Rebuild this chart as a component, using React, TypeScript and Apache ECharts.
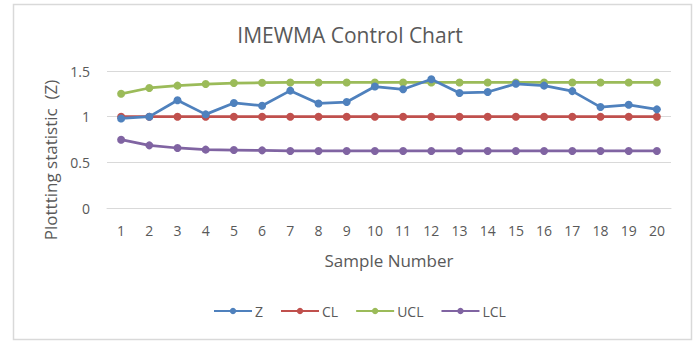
import React, { useEffect, useRef } from "react";
import * as echarts from "echarts";

const categories = ["1","2","3","4","5","6","7","8","9","10","11","12","13","14","15","16","17","18","19","20"];
const zValues = [0.98, 1.0, 1.18, 1.025, 1.15, 1.12, 1.285, 1.145, 1.16, 1.33, 1.30, 1.41, 1.26, 1.27, 1.36, 1.34, 1.28, 1.105, 1.13, 1.08];
const clValues = [1, 1, 1, 1, 1, 1, 1, 1, 1, 1, 1, 1, 1, 1, 1, 1, 1, 1, 1, 1];
const uclValues = [1.25, 1.314, 1.34, 1.357, 1.368, 1.372, 1.375, 1.375, 1.375, 1.375, 1.375, 1.375, 1.375, 1.375, 1.375, 1.375, 1.375, 1.375, 1.375, 1.375];
const lclValues = [0.748, 0.686, 0.657, 0.639, 0.635, 0.631, 0.625, 0.625, 0.625, 0.625, 0.625, 0.625, 0.625, 0.625, 0.625, 0.625, 0.625, 0.625, 0.625, 0.625];

const FONT = "'Open Sans', 'Liberation Sans', sans-serif";
const TXT = "#595959";

export default function App() {
  const ref = useRef<HTMLDivElement>(null);
  useEffect(() => {
    if (!ref.current) return;
    const chart = echarts.init(ref.current, null, { renderer: "svg" });
    const mk = (name: string, data: number[], color: string) => ({
      name,
      type: "line",
      data,
      symbol: "circle",
      symbolSize: 8,
      lineStyle: { color, width: 2.75 },
      itemStyle: { color },
      z: name === "Z" ? 5 : 3,
    });
    chart.setOption({
      animation: false,
      textStyle: { fontFamily: FONT },
      title: {
        text: "IMEWMA Control Chart",
        left: "center",
        top: 19,
        textStyle: { fontFamily: FONT, fontSize: 21, fontWeight: "normal", color: TXT },
      },
      graphic: [
        {
          type: "rect",
          shape: { x: 13.5, y: 4.5, width: 678, height: 335 },
          style: { fill: "none", stroke: "#d9d9d9", lineWidth: 1.5 },
          silent: true,
        },
        {
          type: "text",
          x: 50,
          y: 160,
          rotation: Math.PI / 2,
          style: {
            text: "Plottting statistic  (Z)",
            fontFamily: FONT,
            fontSize: 17,
            fill: TXT,
            align: "center",
            verticalAlign: "middle",
          },
        },
      ],
      legend: {
        bottom: 26,
        left: 208,
        itemWidth: 38,
        itemHeight: 8,
        itemGap: 17,
        textStyle: { fontFamily: FONT, fontSize: 14, color: TXT, padding: [0, 0, 0, -2] },
        data: ["Z", "CL", "UCL", "LCL"],
      },
      grid: { left: 107, right: 29, top: 71, bottom: 141 },
      xAxis: {
        type: "category",
        data: categories,
        boundaryGap: true,
        name: "Sample Number",
        nameLocation: "middle",
        nameGap: 44,
        nameTextStyle: { fontFamily: FONT, fontSize: 17, color: TXT },
        axisLine: { lineStyle: { color: "#d9d9d9", width: 1 } },
        axisTick: { show: false },
        axisLabel: { fontFamily: FONT, fontSize: 14, color: TXT, margin: 15 },
      },
      yAxis: {
        type: "value",
        min: 0,
        max: 1.5,
        interval: 0.5,
        axisLine: { show: false },
        axisTick: { show: false },
        splitLine: { lineStyle: { color: "#d9d9d9", width: 1 } },
        axisLabel: { fontFamily: FONT, fontSize: 14, color: TXT, margin: 17 },
      },
      series: [
        mk("Z", zValues, "#4F81BD"),
        mk("CL", clValues, "#C0504D"),
        mk("UCL", uclValues, "#9BBB59"),
        mk("LCL", lclValues, "#8064A2"),
      ],
    });
    return () => chart.dispose();
  }, []);
  return (
    <div style={{ position: "fixed", left: 0, top: 0, width: 700, height: 349, background: "#fff" }}>
      <div ref={ref} style={{ width: 700, height: 349 }} />
    </div>
  );
}
